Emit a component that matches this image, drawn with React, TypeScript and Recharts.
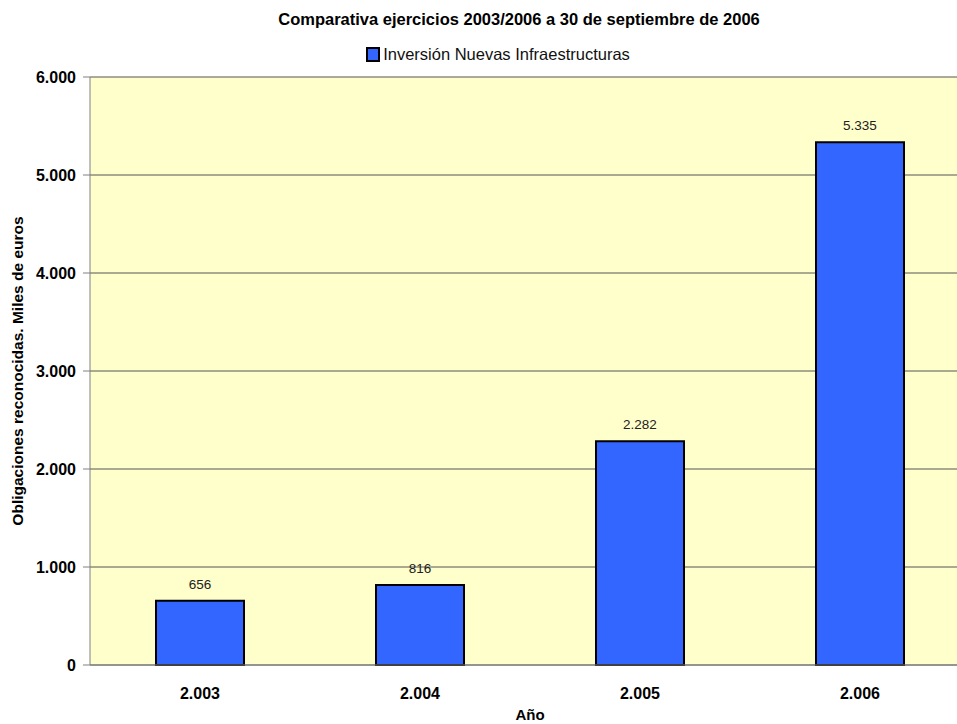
import { BarChart, Bar, XAxis, YAxis, CartesianGrid, LabelList } from 'recharts';

const years = ['2.003', '2.004', '2.005', '2.006'];
const inversion = [656, 816, 2282, 5335];
const yTicks = [0, 1000, 2000, 3000, 4000, 5000, 6000];

const data = years.map((year, i) => ({ year, inversion: inversion[i] }));

const fmt = (v: number) => v.toLocaleString('de-DE');

const FONT = 'Arial, "Liberation Sans", sans-serif';

const YLabel = (props: any) => {
  const { viewBox } = props;
  const cy = viewBox.y + viewBox.height / 2;
  return (
    <text x={17} y={cy} transform={`rotate(-90, 17, ${cy})`} textAnchor="middle" dominantBaseline="central"
      fontFamily={FONT} fontSize={15.5} fontWeight="bold" fill="#000">
      Obligaciones reconocidas. Miles de euros
    </text>
  );
};

const XLabel = (props: any) => {
  const { viewBox } = props;
  return (
    <text x={viewBox.x + viewBox.width / 2} y={viewBox.y + 49} textAnchor="middle" dominantBaseline="central"
      fontFamily={FONT} fontSize={15} fontWeight="bold" fill="#000">
      Año
    </text>
  );
};

const App = () => {
  return (
    <div style={{ position: 'absolute', left: 0, top: 0, width: 957, height: 724, overflow: 'hidden', background: '#fff' }}>
      <div style={{ position: 'absolute', left: 0, top: 10, width: 1038, textAlign: 'center', fontFamily: FONT, fontWeight: 'bold', fontSize: 16.5, color: '#000' }}>
        Comparativa ejercicios 2003/2006 a 30 de septiembre de 2006
      </div>
      <div style={{ position: 'absolute', left: 0, top: 45, width: 996, display: 'flex', alignItems: 'center', justifyContent: 'center', fontFamily: FONT, fontSize: 16.5, color: '#111' }}>
        <span style={{ width: 10, height: 11, background: '#3366FF', border: '2px solid #000', marginRight: 3, display: 'inline-block' }} />
        Inversión Nuevas Infraestructuras
      </div>
      <div style={{ position: 'absolute', left: 0, top: 0 }}>
        <BarChart width={970} height={724} data={data} margin={{ top: 77, right: 0, left: 0, bottom: 0 }} barCategoryGap="30%">
          <CartesianGrid vertical={false} stroke="#555" fill="#FFFFCC" strokeWidth={1} />
          <XAxis dataKey="year" height={59} stroke="#808080" tickLine={false} tickMargin={17}
            tick={{ fontFamily: FONT, fontSize: 16, fontWeight: 'bold', fill: '#000' }}
            label={<XLabel />} />
          <YAxis width={90} domain={[0, 6000]} ticks={yTicks} tickFormatter={fmt} stroke="#808080" tickSize={7} tickMargin={7}
            tick={{ fontFamily: FONT, fontSize: 16, fontWeight: 'bold', fill: '#000' }}
            label={<YLabel />} />
          <Bar dataKey="inversion" fill="#3366FF" stroke="#000" strokeWidth={2} isAnimationActive={false}>
            <LabelList dataKey="inversion" position="top" offset={12} formatter={(v: any) => fmt(Number(v))}
              style={{ fontFamily: FONT, fontSize: 13.5, fill: '#222' }} />
          </Bar>
        </BarChart>
      </div>
    </div>
  );
};

export default App;
